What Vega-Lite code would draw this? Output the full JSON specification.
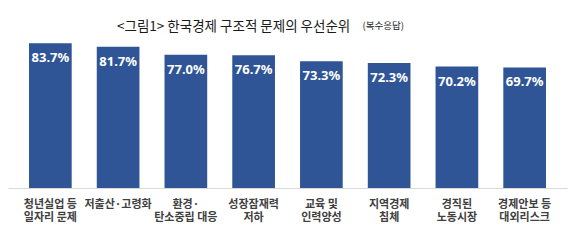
{
  "$schema": "https://vega.github.io/schema/vega-lite/v6.json",
  "width": 559,
  "height": 147,
  "autosize": "none",
  "padding": {"left": 8, "top": 41, "right": 9, "bottom": 54},
  "background": "white",
  "title": {
    "text": "<그림1> 한국경제 구조적 문제의 우선순위",
    "font": "Noto Sans CJK KR",
    "fontSize": 13.5,
    "fontWeight": "normal",
    "color": "#1a1a1a",
    "anchor": "start",
    "frame": "group",
    "dx": 109,
    "offset": -13
  },
  "data": {
    "values": [
      {"item": "청년실업 등|일자리 문제", "value": 83.7, "label": "83.7%"},
      {"item": "저출산·고령화", "value": 81.7, "label": "81.7%"},
      {"item": "환경·|탄소중립 대응", "value": 77.0, "label": "77.0%"},
      {"item": "성장잠재력|저하", "value": 76.7, "label": "76.7%"},
      {"item": "교육 및|인력양성", "value": 73.3, "label": "73.3%"},
      {"item": "지역경제|침체", "value": 72.3, "label": "72.3%"},
      {"item": "경직된|노동시장", "value": 70.2, "label": "70.2%"},
      {"item": "경제안보 등|대외리스크", "value": 69.7, "label": "69.7%"}
    ]
  },
  "encoding": {
    "x": {
      "field": "item",
      "type": "nominal",
      "sort": null,
      "scale": {"paddingInner": 0.37, "paddingOuter": 0.31},
      "axis": {
        "title": null,
        "labelAngle": 0,
        "labelExpr": "split(datum.label, '|')",
        "labelFont": "Noto Sans CJK KR",
        "labelFontSize": 11,
        "labelFontWeight": "bold",
        "labelColor": "#404040",
        "labelLineHeight": 13,
        "labelPadding": 10,
        "labelBaseline": "top",
        "ticks": false,
        "domainColor": "#d9d9d9",
        "domainWidth": 1
      }
    },
    "y": {
      "field": "value",
      "type": "quantitative",
      "scale": {"domain": [0, 85]},
      "axis": {
        "title": "(복수응답)",
        "titleAngle": 0,
        "titleX": 354,
        "titleY": -16,
        "titleAlign": "left",
        "titleBaseline": "middle",
        "titleFont": "Noto Sans CJK KR",
        "titleFontSize": 9.5,
        "titleFontWeight": "normal",
        "titleColor": "#1a1a1a",
        "labels": false,
        "ticks": false,
        "domain": false,
        "grid": false
      }
    }
  },
  "layer": [
    {"mark": {"type": "bar", "color": "#2F5597"}},
    {
      "mark": {
        "type": "text",
        "baseline": "top",
        "dy": 9,
        "color": "white",
        "font": "Noto Sans",
        "fontSize": 13,
        "fontWeight": "bold"
      },
      "encoding": {"text": {"field": "label"}}
    }
  ],
  "config": {"view": {"stroke": null}}
}
